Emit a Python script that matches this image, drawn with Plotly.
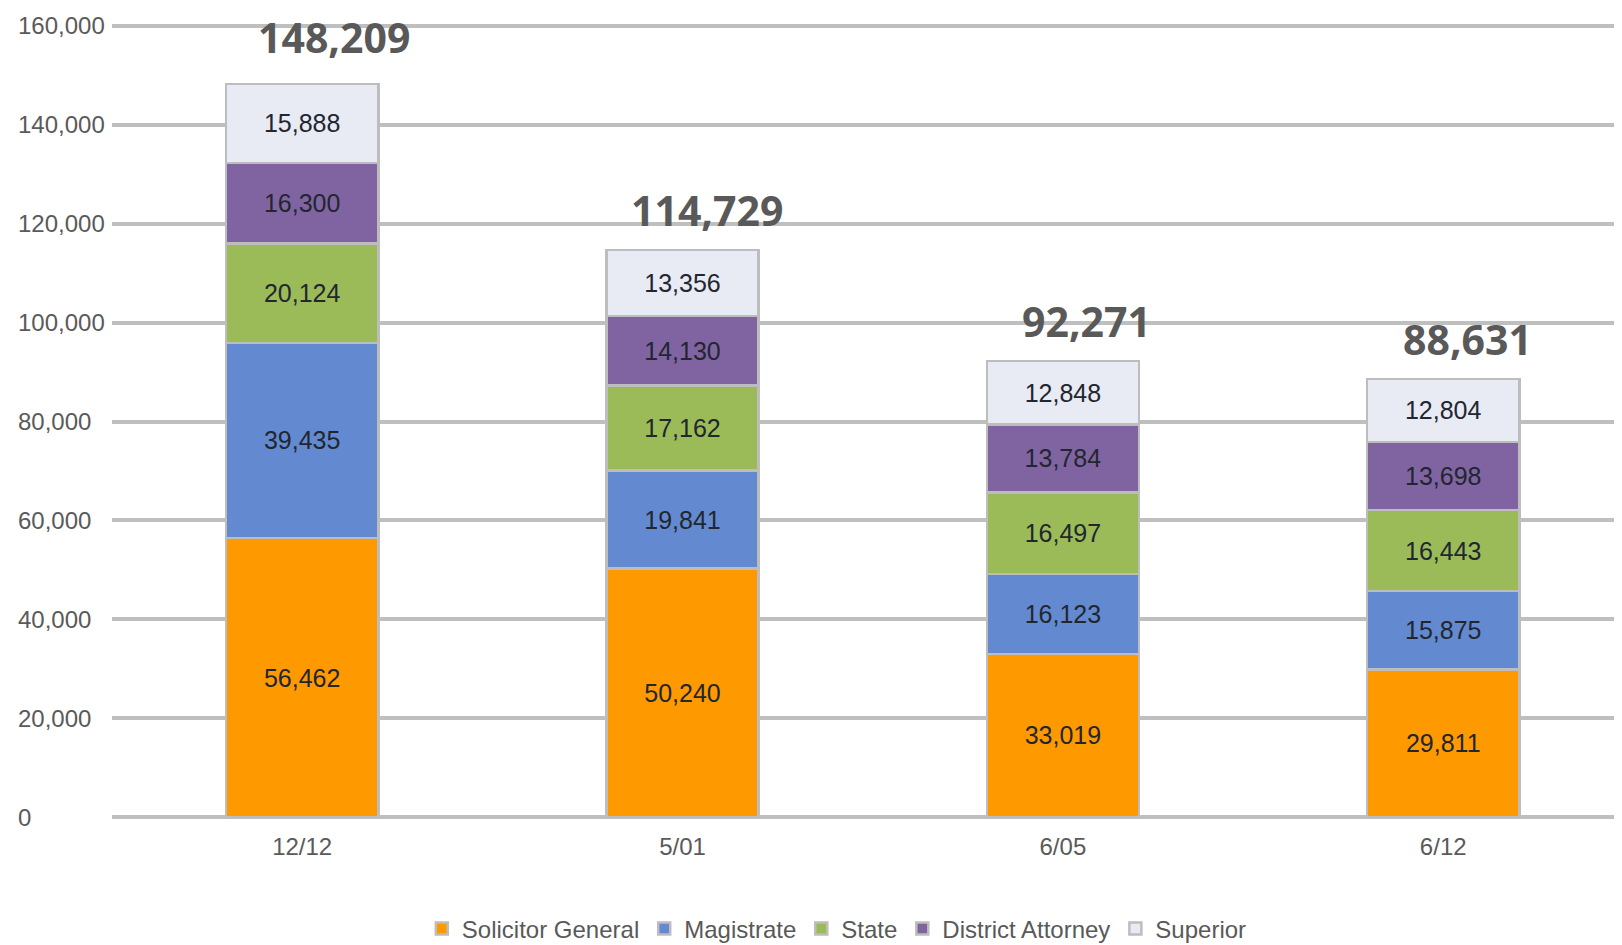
import plotly.graph_objects as go

categories = ["12/12", "5/01", "6/05", "6/12"]
series_names = ["Solicitor General", "Magistrate", "State", "District Attorney", "Superior"]
solicitor_general = [56462, 50240, 33019, 29811]
magistrate = [39435, 19841, 16123, 15875]
state = [20124, 17162, 16497, 16443]
district_attorney = [16300, 14130, 13784, 13698]
superior = [15888, 13356, 12848, 12804]
y_ticks = [0, 20000, 40000, 60000, 80000, 100000, 120000, 140000, 160000]

colors = ["#FF9900", "#638AD0", "#9BBB59", "#8064A2", "#E8EAF4"]
series_values = [solicitor_general, magistrate, state, district_attorney, superior]
totals = [sum(v) for v in zip(*series_values)]

NARROW = "Liberation Sans Narrow, Arial Narrow, Liberation Sans, Arial, sans-serif"

fig = go.Figure()
for name, vals, col in zip(series_names, series_values, colors):
    fig.add_trace(go.Bar(
        x=categories, y=vals, name=name,
        marker=dict(color=col, line=dict(color="#BDBDBD", width=2.5)),
        texttemplate="%{y:,.0f}", textposition="inside", insidetextanchor="middle",
        textfont=dict(family=NARROW, size=25, color="#22262F"),
        hoverinfo="skip",
    ))

for i, (c, t) in enumerate(zip(categories, totals)):
    fig.add_annotation(x=c, y=t, text=f"{t:,}", showarrow=False,
                       yanchor="middle", yshift=47 if i == 0 else 40, xshift=32 if i == 0 else 24,
                       font=dict(family="Open Sans, sans-serif", size=41, color="#595959", weight="bold"))

for v in y_ticks:
    fig.add_annotation(xref="paper", x=0, xshift=-96, xanchor="left",
                       y=v, yanchor="middle", text=f"{v:,}", showarrow=False,
                       font=dict(family=NARROW, size=24, color="#5A5A5A"))

fig.update_layout(
    width=1614, height=937,
    margin=dict(l=104, r=0, t=8, b=118, autoexpand=False),
    barmode="stack", bargap=0.6,
    plot_bgcolor="white", paper_bgcolor="white",
    showlegend=True,
    legend=dict(orientation="h", x=0.48, xanchor="center", y=-0.1258, yanchor="middle",
                font=dict(family=NARROW, size=24, color="#595959"),
                traceorder="normal", itemwidth=30),
)
fig.update_xaxes(type="category", range=[-0.5, 3.47], showgrid=False, showline=False,
                 ticks="", ticklabelstandoff=3,
                 tickfont=dict(family=NARROW, size=24, color="#5A5A5A"))
fig.update_yaxes(range=[-2000, 162000], tickvals=y_ticks, showticklabels=False,
                 showgrid=True, gridcolor="#BFBFBF", gridwidth=4, zeroline=False, showline=False)

fig.write_html("out.html")
